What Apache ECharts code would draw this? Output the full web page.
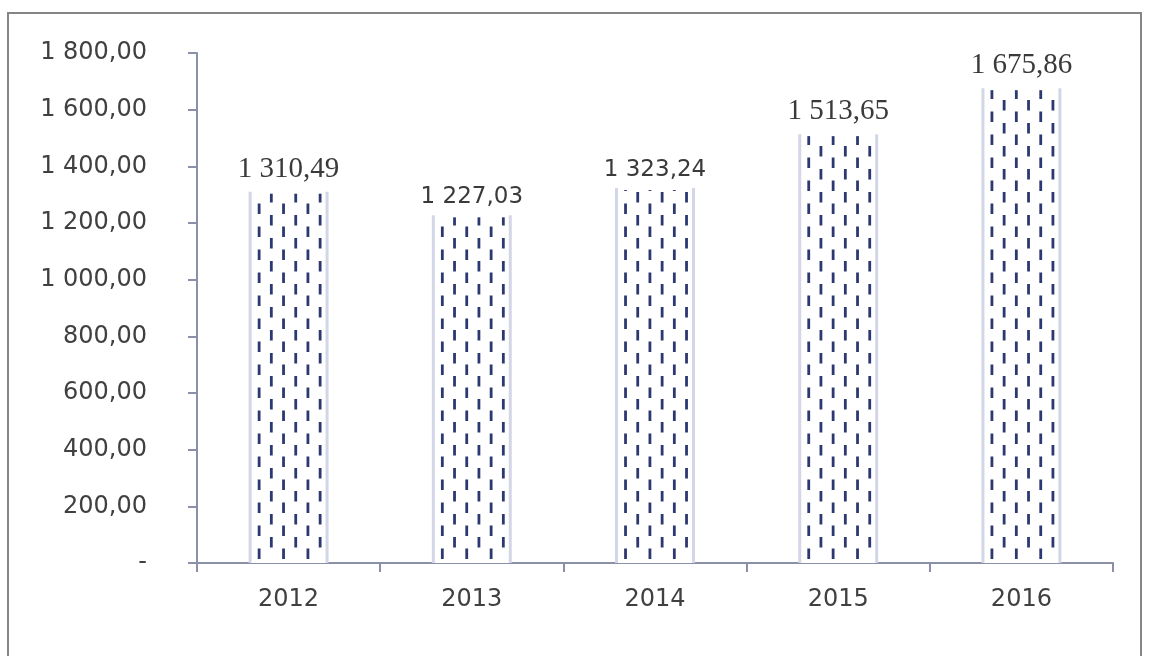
<!DOCTYPE html>
<html><head><meta charset="utf-8">
<script src="https://cdn.jsdelivr.net/npm/echarts@6/dist/echarts.min.js"></script>
<style>html,body{margin:0;padding:0;background:#fff}#c{width:1149px;height:656px}</style>
</head><body><div id="c"></div>
<script>
const categories = ['2012','2013','2014','2015','2016'];
const values = [1310.49, 1227.03, 1323.24, 1513.65, 1675.86];
const labelFonts = ['Liberation Serif','DejaVu Sans','DejaVu Sans','Liberation Serif','Liberation Serif'];
const yTicks = [0,200,400,600,800,1000,1200,1400,1600,1800];

function fmt(v){
  if (v === 0) return '-';
  const s = v.toFixed(2).split('.');
  const int = s[0].replace(/\B(?=(\d{3})+(?!\d))/g, ' ');
  return int + ',' + s[1];
}

const chart = echarts.init(document.getElementById('c'), null, {renderer:'canvas'});

function renderBar(params, api){
  const idx = api.value(0);
  const val = api.value(1);
  const base = api.coord([idx, 0]);
  const top = api.coord([idx, val]);
  const bw = api.size([1, 0])[0] * 0.42;
  const x0 = base[0] - bw/2, x1 = base[0] + bw/2;
  const yb = base[1], yt = top[1];
  const children = [];
  children.push({type:'rect', shape:{x:x0, y:yt, width:bw, height:yb-yt}, style:{fill:'#ffffff'}});
  children.push({type:'line', shape:{x1:x0, y1:yt, x2:x0, y2:yb}, style:{stroke:'#d3d6e6', lineWidth:3}});
  children.push({type:'line', shape:{x1:x1, y1:yt, x2:x1, y2:yb}, style:{stroke:'#d3d6e6', lineWidth:3}});
  const nCols = 6, step = 12.2, first = 9, period = 23, dash = 10.5;
  for (let c = 0; c < nCols; c++){
    const cx = x0 + first + c*step;
    const phase = (c % 2 === 0) ? 4 : 4 + period/2;
    for (let y = yb - phase; y > yt - dash; y -= period){
      const y2 = Math.min(y, yb);
      const y1 = Math.max(y - dash, yt + 2);
      if (y2 - y1 <= 0.5) continue;
      children.push({type:'rect', shape:{x:cx-1.4, y:y1, width:2.8, height:y2-y1}, style:{fill:'#2c3870'}});
    }
  }
  const serif = labelFonts[idx]==='Liberation Serif';
  children.push({type:'text', style:{text:fmt(val), x:base[0], y:yt-(serif?8:7), align:'center', verticalAlign:'bottom',
    fill:'#3a3a3a', font: (serif ? '29px "Liberation Serif"' : '23px "DejaVu Sans"')}});
  return {type:'group', children};
}

chart.setOption({
  animation:false,
  graphic:[{type:'rect', shape:{x:8,y:13,width:1133,height:660}, style:{fill:'none',stroke:'#858585',lineWidth:2}}],
  grid:{left:197,right:36,top:53,bottom:93},
  xAxis:{type:'category',data:categories,
    axisLine:{lineStyle:{color:'#8a90a8',width:2}},
    axisTick:{show:true,length:9,lineStyle:{color:'#8a90a8',width:2}},
    axisLabel:{color:'#404040',fontSize:24,fontFamily:'DejaVu Sans',margin:25}},
  yAxis:{type:'value',min:0,max:1800,interval:200,
    axisLine:{show:true,lineStyle:{color:'#8a90a8',width:2}},
    axisTick:{show:true,length:9,lineStyle:{color:'#8a90a8',width:2}},
    splitLine:{show:false},
    axisLabel:{color:'#404040',fontSize:24,fontFamily:'DejaVu Sans',margin:50,formatter:fmt}},
  series:[{type:'custom', renderItem:renderBar, encode:{x:0,y:1},
    data: values.map((v,i)=>[i, v])}]
});
</script></body></html>
